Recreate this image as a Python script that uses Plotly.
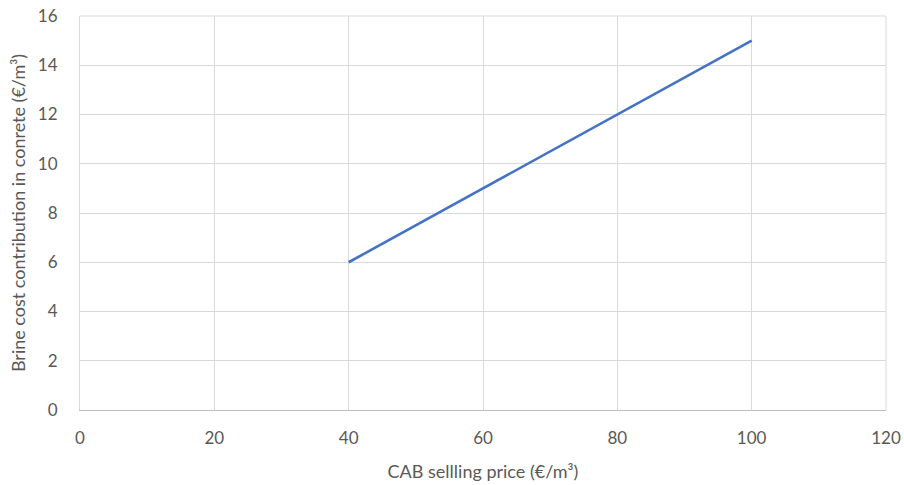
import plotly.graph_objects as go

cab_price = [40, 60, 80, 100]
brine_cost = [6, 9, 12, 15]

x_ticks = [0, 20, 40, 60, 80, 100, 120]
y_ticks = [0, 2, 4, 6, 8, 10, 12, 14, 16]

font_family = "Lato, 'Open Sans', sans-serif"

fig = go.Figure()
fig.add_trace(go.Scatter(
    x=cab_price, y=brine_cost, mode="lines",
    line=dict(color="#4472C4", width=2.6),
    showlegend=False,
))

fig.update_layout(
    width=904, height=485,
    margin=dict(l=80, r=18, t=16, b=75),
    paper_bgcolor="white", plot_bgcolor="white",
    font=dict(family=font_family, size=17, color="#595959"),
    xaxis=dict(
        range=[0, 120], tickvals=x_ticks, showgrid=True,
        gridcolor="#d9d9d9", gridwidth=1,
        showline=True, linecolor="#bfbfbf", linewidth=1,
        zeroline=False, ticks="", ticklabelstandoff=13,
        automargin=False,
        title=dict(text="CAB sellling price (€/m³)", standoff=17,
                   font=dict(size=18, color="#595959")),
    ),
    yaxis=dict(
        range=[0, 16], tickvals=y_ticks, showgrid=True,
        gridcolor="#d9d9d9", gridwidth=1,
        showline=True, linecolor="#d9d9d9", linewidth=1,
        zeroline=False, ticks="", ticklabelstandoff=18,
        automargin=False,
        title=dict(text="Brine cost contribution in conrete (€/m³)", standoff=7,
                   font=dict(size=18, color="#595959")),
    ),
)
fig.add_shape(type="line", xref="paper", yref="paper", x0=1, x1=1, y0=0, y1=1,
              line=dict(color="#d9d9d9", width=1))
fig.add_shape(type="line", xref="paper", yref="paper", x0=0, x1=1, y0=1, y1=1,
              line=dict(color="#d9d9d9", width=1))

fig.write_html(
    "out.html",
    config={"displayModeBar": False},
    post_script="document.body.style.margin='0';document.body.style.overflow='hidden';",
)
